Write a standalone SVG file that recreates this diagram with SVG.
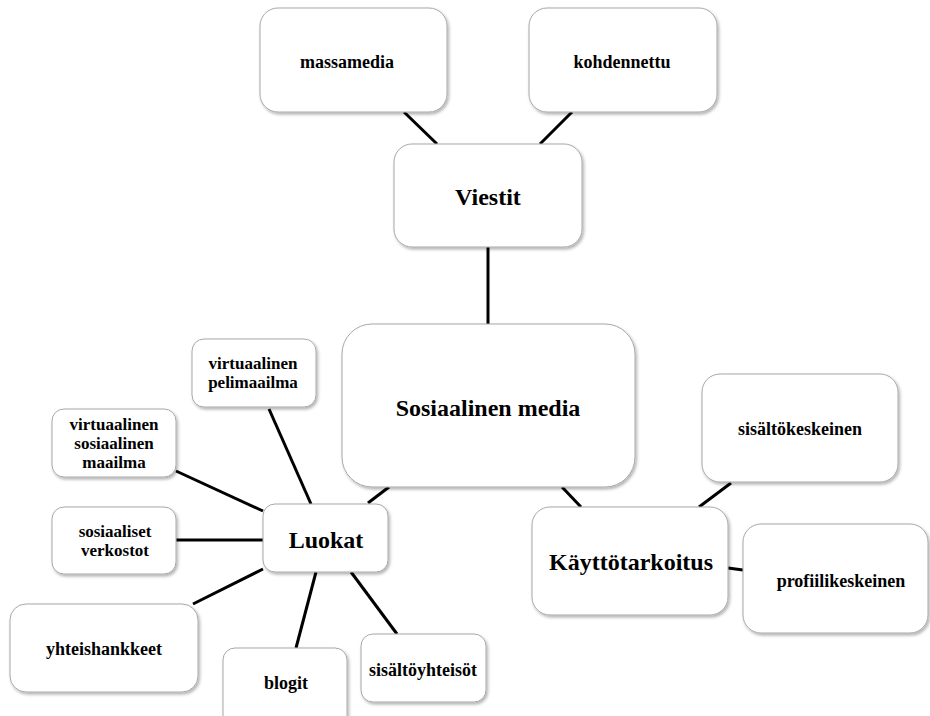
<svg xmlns="http://www.w3.org/2000/svg" width="930" height="716" viewBox="0 0 930 716">
<style>
.box{fill:#fff;stroke:#a8a8a8;stroke-width:1;filter:url(#sh)}
.t{font-family:"Liberation Serif","Times New Roman",serif;font-weight:bold;fill:#000;text-anchor:middle}
.s{font-size:18px}
.m{font-size:17px}
.b{font-size:24px}
.c line{stroke:#000;stroke-width:3;stroke-linecap:butt}
</style>
<defs>
<filter id="sh" x="-10%" y="-10%" width="130%" height="130%">
<feDropShadow dx="1.5" dy="2" stdDeviation="1.5" flood-color="#000" flood-opacity="0.3"/>
</filter>
</defs>
<rect width="930" height="716" fill="#fff"/>
<g class="c" id="connectors">
<line x1="404" y1="112" x2="437" y2="144"/>
<line x1="572" y1="112" x2="540" y2="144"/>
<line x1="488" y1="247" x2="488" y2="324"/>
<line x1="368" y1="503" x2="389" y2="487"/>
<line x1="562" y1="487" x2="581" y2="507"/>
<line x1="731" y1="483" x2="699" y2="507"/>
<line x1="728" y1="568" x2="743" y2="570"/>
<line x1="269" y1="409" x2="311" y2="504"/>
<line x1="176" y1="471" x2="263" y2="511"/>
<line x1="176" y1="540" x2="263" y2="540"/>
<line x1="193" y1="604" x2="263" y2="569"/>
<line x1="316" y1="572" x2="296" y2="648"/>
<line x1="351" y1="572" x2="397" y2="634"/>
</g>
<g id="massamedia"><rect class="box" x="260" y="8" width="187" height="104" rx="18"/><text class="t s" x="347" y="68">massamedia</text></g>
<g id="kohdennettu"><rect class="box" x="529" y="8" width="188" height="104" rx="18"/><text class="t s" x="622" y="68">kohdennettu</text></g>
<g id="viestit"><rect class="box" x="394" y="144" width="188" height="103" rx="18"/><text class="t b" x="488" y="205">Viestit</text></g>
<g id="sosiaalinen-media"><rect class="box" x="342" y="324" width="293" height="163" rx="30"/><text class="t b" x="488" y="416">Sosiaalinen media</text></g>
<g id="sisaltokeskeinen"><rect class="box" x="702" y="374" width="196" height="108" rx="18"/><text class="t s" x="800" y="435">sisältökeskeinen</text></g>
<g id="kayttotarkoitus"><rect class="box" x="532" y="507" width="196" height="108" rx="18"/><text class="t b" x="631" y="570">Käyttötarkoitus</text></g>
<g id="profiilikeskeinen"><rect class="box" x="743" y="524" width="185" height="109" rx="18"/><text class="t s" x="841" y="587">profiilikeskeinen</text></g>
<g id="luokat"><rect class="box" x="263" y="504" width="125" height="68" rx="12"/><text class="t b" x="326" y="548">Luokat</text></g>
<g id="virtuaalinen-pelimaailma"><rect class="box" x="192" y="339" width="124" height="68" rx="12"/><text class="t m" x="253" y="369">virtuaalinen</text><text class="t m" x="253" y="388">pelimaailma</text></g>
<g id="virtuaalinen-sosiaalinen-maailma"><rect class="box" x="52" y="409" width="124" height="68" rx="12"/><text class="t m" x="114" y="430">virtuaalinen</text><text class="t m" x="114" y="449">sosiaalinen</text><text class="t m" x="114" y="468">maailma</text></g>
<g id="sosiaaliset-verkostot"><rect class="box" x="52" y="507" width="124" height="67" rx="12"/><text class="t m" x="115" y="537">sosiaaliset</text><text class="t m" x="115" y="556">verkostot</text></g>
<g id="yhteishankkeet"><rect class="box" x="10" y="604" width="188" height="88" rx="16"/><text class="t s" x="104" y="655">yhteishankkeet</text></g>
<g id="blogit"><rect class="box" x="223" y="648" width="124" height="80" rx="12"/><text class="t s" x="286" y="689">blogit</text></g>
<g id="sisaltoyhteisot"><rect class="box" x="361" y="634" width="125" height="68" rx="12"/><text class="t s" x="423" y="676">sisältöyhteisöt</text></g>
</svg>
